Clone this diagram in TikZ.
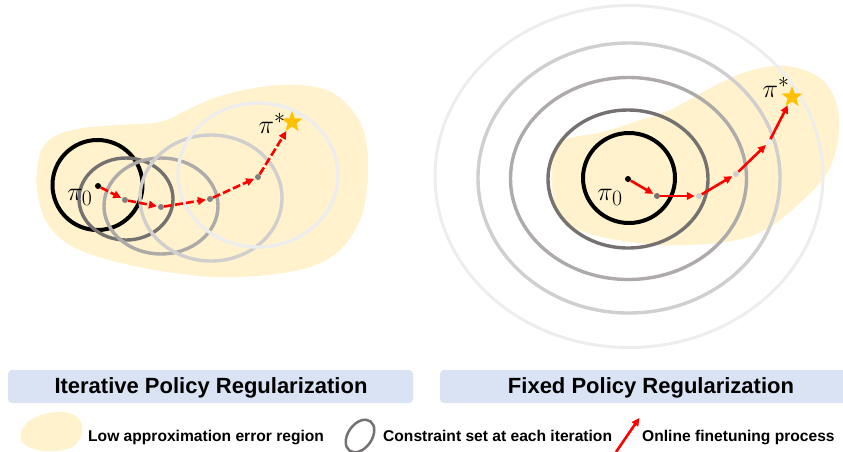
\documentclass[tikz,border=0pt]{standalone}
\usepackage[no-math]{fontspec}
\newfontfamily\sansbold{Liberation Sans}
\usetikzlibrary{arrows.meta,shapes.geometric}
\definecolor{region}{HTML}{FFF2CC}
\definecolor{titlefill}{HTML}{DAE3F3}
\definecolor{ringB}{HTML}{767171}
\definecolor{ringC}{HTML}{AEAAAA}
\definecolor{ringD}{HTML}{D0CECE}
\definecolor{ringE}{HTML}{EDEDED}
\definecolor{gold}{HTML}{FFC000}
\begin{document}
\begin{tikzpicture}[x=1pt, y=-1pt,
    ring/.style={line width=3.4pt},
    dot/.style={circle, fill, inner sep=0pt, minimum size=6pt},
    goal/.style={star, star points=5, star point ratio=2.4, fill=gold,
      inner sep=0pt, minimum size=22pt},
    pilabel/.style={inner sep=0pt, anchor=base, font=\Huge, scale=1.05},
    move/.style={->, >={Triangle[length=8pt, width=7.5pt]}, red,
      line width=2.6pt, shorten >=1pt},
    titlebox/.style={fill=titlefill, rounded corners=4pt, minimum height=33pt},
    titletext/.style={anchor=base, font=\sansbold\bfseries\fontsize{22}{26}\selectfont},
    legendtext/.style={anchor=base west, inner sep=0pt,
      font=\sansbold\bfseries\fontsize{15.6}{18}\selectfont}]
  \useasboundingbox (0,0) rectangle (843,451);

  % iterative regularization
  \fill[region] plot[smooth cycle, tension=0.6] coordinates {(43,147) (57,135)
    (83,128) (117,125) (160,122) (187,110) (217,97) (260,87) (300,85) (333,93)
    (357,117) (367,147) (367,187) (360,220) (340,250) (310,267) (267,275)
    (217,277) (167,272) (117,262) (73,247) (47,223) (37,190) (38,163)};
  \draw[ring, line width=4pt] (97.5,185) circle (45pt);
  \draw[ring, ringB] (126,199) ellipse (47pt and 41pt);
  \draw[ring, ringC] (161,206) ellipse (57pt and 48pt);
  \draw[ring, ringD] (211,198) ellipse (71pt and 63pt);
  \draw[ring, ringE] (258,175) ellipse (80pt and 72pt);

  \begin{scope}[every node/.style={dot, fill=gray}]
    \node[fill=black] (l0) at (98,186) {}; \node (l1) at (125,200) {};
    \node (l2) at (161,207) {}; \node (l3) at (210,199) {}; \node (l4) at
    (258,177) {};
  \end{scope}
  \node[goal] (ls) at (292,122) {};
  \node[pilabel] (lp0) at (80,200) {$\pi_0$};
  \node[pilabel] (lps) at (272,133) {$\pi^*$};

  \begin{scope}[move, dash pattern=on 8pt off 3pt]
    \draw (l0) -- (l1); \draw (l1) -- (l2); \draw (l2) -- (l3);
    \draw (l3) -- (l4); \draw (l4) -- (ls);
  \end{scope}

  % fixed regularization
  \fill[region] plot[smooth cycle, tension=0.6] coordinates {(553,157) (563,140)
    (603,132) (640,120) (670,110) (720,83) (753,70) (787,66) (820,78) (837,105)
    (838,140) (827,173) (803,200) (770,227) (737,240) (687,245) (637,243)
    (587,233) (560,217) (552,187)};
  \draw[ring, line width=4pt] (629,178) ellipse (46pt and 45pt);
  \draw[ring, ringB] (628,179) ellipse (80pt and 69pt);
  \draw[ring, ringC] (628.5,178.5) ellipse (118pt and 101pt);
  \draw[ring, ringD] (629,178) ellipse (151pt and 135pt);
  \draw[ring, ringE, line width=3pt] (629,176.5) ellipse (194pt and 171pt);

  \begin{scope}[every node/.style={dot}]
    \node[fill=black] (r0) at (628,179) {}; \node[fill=ringB] (r1) at
    (657,196) {}; \node[fill=ringD] (r2) at (699,196) {}; \node[fill=ringD]
    (r3) at (736,174) {}; \node[fill=ringE] (r4) at (769,142) {};
  \end{scope}
  \node[goal] (rs) at (792,97) {};
  \node[pilabel] (rp0) at (610,200) {$\pi_0$};
  \node[pilabel] (rps) at (776,97) {$\pi^*$};

  \begin{scope}[move]
    \draw (r0) -- (r1); \draw (r1) -- (r2); \draw (r2) -- (r3);
    \draw (r3) -- (r4); \draw (r4) -- (rs);
  \end{scope}

  % titles
  \node[titlebox, minimum width=405pt] (leftbox) at (210.5,386.5) {};
  \node[titletext] (lefttitle) at (211,393) {Iterative Policy Regularization};
  \node[titlebox, minimum width=410pt] (rightbox) at (645,386.5) {};
  \node[titletext] (righttitle) at (651,393) {Fixed Policy Regularization};

  % legend
  \fill[region] plot[smooth cycle, tension=0.7] coordinates {(23,428) (38,416)
    (62,412) (78,418) (82,432) (72,447) (45,451) (23,443)};
  \node[legendtext] (regiontext) at (88,441) {Low approximation error region};
  \draw[ringB, line width=2.5pt, rotate around={55:(360,436)}] (360,436)
    ellipse (18pt and 12pt);
  \node[legendtext] (settext) at (383,441) {Constraint set at each iteration};
  \coordinate (tail) at (616,452); \coordinate (head) at (640,417);
  \draw[move] (tail) -- (head);
  \node[legendtext] (movetext) at (642,441) {Online finetuning process};
\end{tikzpicture}
\end{document}
